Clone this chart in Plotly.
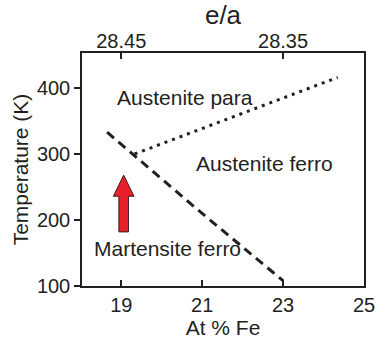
import plotly.graph_objects as go

# Data
dash_x = [18.65, 20.9, 23.0]
dash_y = [333, 215, 108]
dot_x = [19.33, 24.35]
dot_y = [300, 416]
x_ticks = [19, 21, 23, 25]
y_ticks = [100, 200, 300, 400]
top_tickvals = [19, 23]
top_ticktext = ["28.45", "28.35"]
labels = ["Austenite para", "Austenite ferro", "Martensite ferro"]
label_x = [20.58, 22.55, 20.15]
label_y = [385, 286, 157]
arrow_x = 19.06
arrow_base = 182
arrow_tip = 268

xr = [18.03, 25.0]
yr = [100, 453]
ink = "#231f20"
font = "Liberation Sans, Arial, sans-serif"

fig = go.Figure()
fig.add_trace(go.Scatter(x=dash_x, y=dash_y, mode="lines",
                         line=dict(color=ink, width=3, dash="9px,6px"),
                         showlegend=False, hoverinfo="skip"))
fig.add_trace(go.Scatter(x=dot_x, y=dot_y, mode="lines",
                         line=dict(color=ink, width=3, dash="3px,5px"),
                         showlegend=False, hoverinfo="skip"))
fig.add_trace(go.Scatter(x=xr, y=[None, None], xaxis="x2", mode="lines",
                         showlegend=False, hoverinfo="skip"))

# arrow
sw, hw, hl = 0.118, 0.255, 32
head_base = arrow_tip - hl
path = (f"M {arrow_x-sw} {arrow_base} L {arrow_x-sw} {head_base} L {arrow_x-hw} {head_base} "
        f"L {arrow_x} {arrow_tip} L {arrow_x+hw} {head_base} L {arrow_x+sw} {head_base} "
        f"L {arrow_x+sw} {arrow_base} Z")
fig.add_shape(type="path", path=path, xref="x", yref="y",
              fillcolor="#e8202a", line=dict(color="#3a1a1a", width=1))

for t, x, y in zip(labels, label_x, label_y):
    fig.add_annotation(x=x, y=y, text=t, showarrow=False,
                       font=dict(size=21, color=ink, family=font))

fig.update_layout(
    width=387, height=342,
    margin=dict(l=82, r=12, t=50, b=53),
    paper_bgcolor="white", plot_bgcolor="white",
    font=dict(family=font, color=ink, size=20),
    xaxis=dict(range=xr, tickvals=x_ticks, ticks="inside", ticklen=6,
               tickwidth=1.5, tickcolor=ink, showgrid=False, zeroline=False,
               showline=True, linecolor=ink, linewidth=1.5, mirror=True,
               title=dict(text="At % Fe", font=dict(size=21), standoff=0),
               tickfont=dict(size=20)),
    xaxis2=dict(range=xr, overlaying="x", side="top", tickvals=top_tickvals,
                ticktext=top_ticktext, ticks="inside", ticklen=6, tickwidth=1.5,
                tickcolor=ink, showgrid=False, zeroline=False, showline=False,
                title=dict(text="e/a", font=dict(size=26), standoff=0),
                tickfont=dict(size=20)),
    yaxis=dict(range=yr, tickvals=y_ticks, ticks="outside", ticklen=6,
               tickwidth=1.5, tickcolor=ink, showgrid=False, zeroline=False,
               showline=True, linecolor=ink, linewidth=1.5, mirror=True,
               title=dict(text="Temperature (K)", font=dict(size=21), standoff=3),
               tickfont=dict(size=20)),
)

fig.write_html("out.html")
